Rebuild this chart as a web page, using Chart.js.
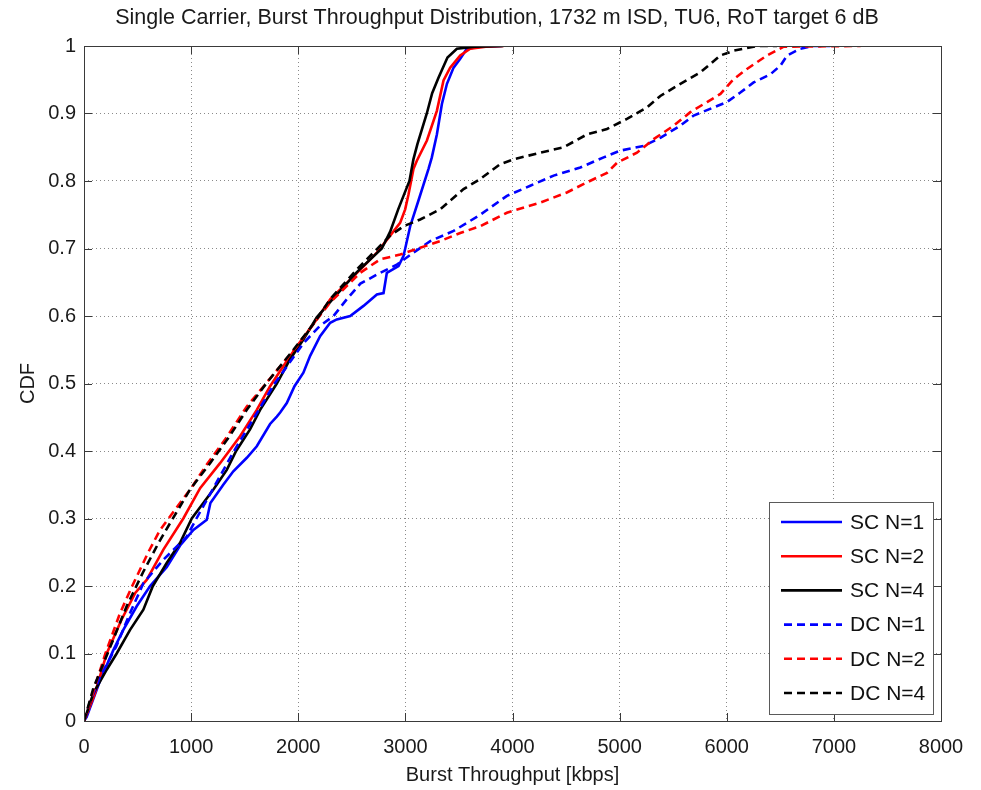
<!DOCTYPE html>
<html>
<head>
<meta charset="utf-8">
<style>
  html, body { margin: 0; padding: 0; background: #fff; }
  #wrap { width: 981px; height: 790px; }
</style>
<script src="https://cdn.jsdelivr.net/npm/chart.js@4"></script>
</head>
<body>
<div id="wrap"><canvas id="cdf" width="981" height="790"></canvas></div>
<script>
// curves: [burst throughput in kbps, CDF]
const scN1 = [[0,0],[25,0.006],[150,0.06],[274,0.105],[367,0.135],[492,0.17],[617,0.2],[772,0.228],[897,0.26],[1021,0.283],[1146,0.298],[1180,0.323],[1300,0.35],[1394,0.37],[1520,0.39],[1613,0.407],[1737,0.44],[1800,0.451],[1831,0.457],[1893,0.471],[1965,0.496],[2048,0.516],[2111,0.541],[2204,0.57],[2298,0.59],[2360,0.595],[2485,0.6],[2609,0.615],[2734,0.632],[2796,0.634],[2827,0.664],[2936,0.674],[2983,0.689],[3045,0.733],[3120,0.77],[3216,0.818],[3247,0.835],[3294,0.869],[3341,0.914],[3388,0.944],[3450,0.968],[3512,0.981],[3574,0.996],[3699,0.999],[3900,1]];
const scN2 = [[0,0],[100,0.04],[212,0.1],[350,0.15],[480,0.19],[585,0.209],[741,0.254],[927,0.3],[1084,0.345],[1270,0.382],[1457,0.422],[1613,0.461],[1737,0.496],[1862,0.526],[1987,0.555],[2142,0.588],[2300,0.625],[2454,0.649],[2600,0.672],[2734,0.694],[2858,0.719],[2951,0.738],[2998,0.758],[3029,0.78],[3076,0.818],[3107,0.83],[3201,0.86],[3294,0.904],[3356,0.949],[3418,0.968],[3512,0.986],[3605,0.996],[3750,0.999],[3917,1]];
const scN4 = [[0,0],[87,0.041],[212,0.076],[305,0.1],[430,0.135],[554,0.165],[640,0.199],[772,0.234],[897,0.264],[1006,0.3],[1208,0.343],[1333,0.372],[1420,0.4],[1550,0.432],[1644,0.461],[1800,0.5],[1924,0.536],[2048,0.565],[2173,0.598],[2350,0.63],[2547,0.665],[2780,0.7],[2858,0.725],[2933,0.758],[3000,0.785],[3038,0.8],[3075,0.832],[3113,0.855],[3200,0.9],[3250,0.93],[3309,0.953],[3393,0.983],[3481,0.996],[3650,0.999],[3913,1]];
const dcN1 = [[0,0],[60,0.03],[150,0.065],[300,0.11],[430,0.16],[554,0.204],[741,0.239],[959,0.273],[1050,0.3],[1400,0.4],[1780,0.5],[2050,0.56],[2200,0.585],[2329,0.6],[2454,0.625],[2580,0.648],[2765,0.664],[2920,0.676],[3076,0.694],[3232,0.711],[3450,0.726],[3699,0.75],[3948,0.778],[4166,0.793],[4384,0.808],[4633,0.82],[4851,0.835],[5006,0.845],[5224,0.852],[5380,0.864],[5567,0.882],[5691,0.897],[5878,0.909],[6002,0.917],[6127,0.931],[6251,0.946],[6407,0.958],[6501,0.971],[6564,0.986],[6688,0.996],[6812,1],[6968,1]];
const dcN2 = [[0,0],[100,0.05],[200,0.1],[337,0.16],[450,0.2],[600,0.25],[710,0.283],[803,0.303],[1000,0.345],[1146,0.38],[1330,0.42],[1520,0.466],[1750,0.51],[1987,0.555],[2150,0.59],[2298,0.62],[2578,0.664],[2765,0.684],[2951,0.691],[3138,0.701],[3325,0.711],[3512,0.723],[3699,0.733],[3948,0.753],[4259,0.768],[4508,0.783],[4695,0.798],[4882,0.812],[4976,0.827],[5162,0.842],[5318,0.862],[5505,0.882],[5660,0.902],[5816,0.917],[5941,0.929],[6065,0.951],[6189,0.966],[6376,0.986],[6532,0.999],[7250,1]];
const dcN4 = [[0,0],[90,0.05],[220,0.1],[398,0.17],[550,0.22],[700,0.265],[803,0.293],[990,0.343],[1177,0.382],[1350,0.42],[1520,0.461],[1706,0.501],[1955,0.55],[2150,0.59],[2298,0.625],[2547,0.669],[2734,0.699],[2858,0.719],[2983,0.733],[3138,0.743],[3325,0.758],[3543,0.788],[3699,0.803],[3886,0.825],[4010,0.832],[4259,0.842],[4477,0.85],[4695,0.869],[4882,0.877],[5068,0.892],[5255,0.909],[5380,0.926],[5567,0.944],[5754,0.961],[5941,0.986],[6065,0.993],[6283,1],[6470,1]];

const seriesNames = ['SC N=1', 'SC N=2', 'SC N=4', 'DC N=1', 'DC N=2', 'DC N=4'];
const xTicks = [0, 1000, 2000, 3000, 4000, 5000, 6000, 7000, 8000];
const yTicks = [0, 0.1, 0.2, 0.3, 0.4, 0.5, 0.6, 0.7, 0.8, 0.9, 1];

const titleText = 'Single Carrier, Burst Throughput Distribution, 1732 m ISD, TU6, RoT target 6 dB';
const FONT = '"Liberation Sans", Arial, Helvetica, sans-serif';

const curves = [scN1, scN2, scN4, dcN1, dcN2, dcN4];
const colors = ['#0000ff', '#ff0000', '#000000', '#0000ff', '#ff0000', '#000000'];

const datasets = curves.map((c, i) => ({
  label: seriesNames[i],
  data: c.map(p => ({ x: p[0], y: p[1] })),
  borderColor: colors[i],
  backgroundColor: colors[i],
  borderWidth: 2.6,
  borderDash: i >= 3 ? [8, 5] : [],
  pointRadius: 0,
  tension: 0,
  fill: false,
  order: 6 - i
}));

// frame, inward ticks, title and legend drawn like the matlab figure
const matlabBits = {
  id: 'matlabBits',
  afterDatasetsDraw(chart) {
    const { ctx, chartArea: a, scales } = chart;
    ctx.save();
    ctx.strokeStyle = '#3a3a3a';
    ctx.lineWidth = 1;
    ctx.strokeRect(Math.round(a.left) + 0.5, Math.round(a.top) + 0.5, Math.round(a.right - a.left), Math.round(a.bottom - a.top));
    ctx.beginPath();
    xTicks.forEach(v => {
      const px = Math.round(scales.x.getPixelForValue(v)) + 0.5;
      ctx.moveTo(px, a.bottom); ctx.lineTo(px, a.bottom - 8);
      ctx.moveTo(px, a.top); ctx.lineTo(px, a.top + 8);
    });
    yTicks.forEach(v => {
      const py = Math.round(scales.y.getPixelForValue(v)) + 0.5;
      ctx.moveTo(a.left, py); ctx.lineTo(a.left + 8, py);
      ctx.moveTo(a.right, py); ctx.lineTo(a.right - 8, py);
    });
    ctx.stroke();

    // title
    ctx.fillStyle = '#1a1a1a';
    ctx.font = '21.5px ' + FONT;
    ctx.textAlign = 'center';
    ctx.textBaseline = 'middle';
    ctx.fillText(titleText, 497, 18);

    // legend
    const box = { left: 769, top: 502, w: 164, h: 212 };
    ctx.fillStyle = '#fff';
    ctx.fillRect(box.left, box.top, box.w, box.h);
    ctx.strokeStyle = '#5a5a5a';
    ctx.strokeRect(box.left + 0.5, box.top + 0.5, box.w, box.h);
    ctx.font = '21px ' + FONT;
    ctx.textAlign = 'left';
    chart.data.datasets.forEach((ds, i) => {
      const y = 522 + i * 34.2;
      ctx.strokeStyle = ds.borderColor;
      ctx.lineWidth = 2.6;
      ctx.setLineDash(ds.borderDash);
      ctx.beginPath();
      ctx.moveTo(ds.borderDash.length ? 784 : 781, y);
      ctx.lineTo(842, y);
      ctx.stroke();
      ctx.setLineDash([]);
      ctx.fillStyle = '#111';
      ctx.fillText(ds.label, 850, y + 1);
    });
    ctx.restore();
  }
};

new Chart(document.getElementById('cdf').getContext('2d'), {
  type: 'line',
  data: { datasets: datasets },
  options: {
    responsive: false,
    animation: false,
    devicePixelRatio: 1,
    layout: { padding: { top: 46, right: 40, left: 0, bottom: 0 } },
    plugins: { legend: { display: false }, tooltip: { enabled: false }, title: { display: false } },
    scales: {
      x: {
        type: 'linear', min: 0, max: 8000,
        afterFit: s => { s.height = 69; },
        afterBuildTicks: s => { s.ticks = xTicks.map(v => ({ value: v })); },
        ticks: { color: '#1a1a1a', font: { family: FONT, size: 20 }, padding: 14, maxRotation: 0, callback: v => String(v) },
        grid: { color: '#8a8a8a', lineWidth: 1, drawTicks: false },
        border: { display: false, dash: [1, 3] },
        title: { display: true, text: 'Burst Throughput [kbps]', color: '#1a1a1a', font: { family: FONT, size: 20 }, padding: { top: 0, bottom: 3 } }
      },
      y: {
        type: 'linear', min: 0, max: 1,
        afterFit: s => { s.width = 84; },
        afterBuildTicks: s => { s.ticks = yTicks.map(v => ({ value: v })); },
        ticks: { color: '#1a1a1a', font: { family: FONT, size: 20 }, padding: 8, callback: v => String(Math.round(v * 10) / 10) },
        grid: { color: '#8a8a8a', lineWidth: 1, drawTicks: false },
        border: { display: false, dash: [1, 3] },
        title: { display: true, text: 'CDF', color: '#1a1a1a', font: { family: FONT, size: 20 }, padding: { top: 16, bottom: 0 } }
      }
    }
  },
  plugins: [matlabBits]
});
</script>
</body>
</html>
